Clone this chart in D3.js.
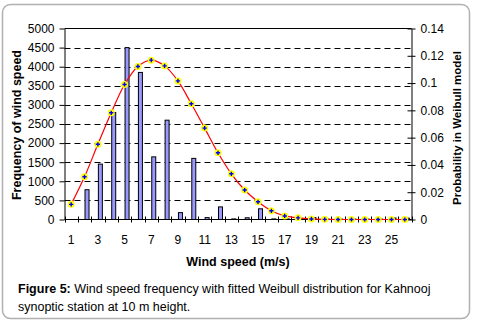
<!DOCTYPE html>
<html><head><meta charset="utf-8">
<script src="https://cdn.jsdelivr.net/npm/d3@7"></script>
<style>
body{margin:0;background:#fff;}
svg{display:block;font-family:"Liberation Sans",Arial,sans-serif;}
</style></head>
<body><svg id="c" width="480" height="322"></svg>
<script>
const categories = d3.range(1, 27);
const frequency = [0, 780, 1450, 2800, 4500, 3850, 1640, 2600, 180, 1600, 50, 330, 15, 45, 280, 15, 15, 10, 50, 10, 10, 10, 10, 10, 40, 35];
const weibull = [0.0111, 0.0313, 0.0551, 0.0782, 0.099, 0.1122, 0.1168, 0.1126, 0.1016, 0.0848, 0.067, 0.0489, 0.0335, 0.0216, 0.013, 0.0064, 0.0026, 0.0012, 0.0004, 0.0001, 0, 0, 0, 0, 0, 0];
const leftTicks = d3.range(0, 5001, 500);
const rightTicks = [0, 0.02, 0.04, 0.06, 0.08, 0.1, 0.12, 0.14];
const xLabels = [1, 3, 5, 7, 9, 11, 13, 15, 17, 19, 21, 23, 25];

const svg = d3.select("#c");
const L = 64.5, R = 411.5, T = 28.5, B = 219.5;
const x = d3.scaleBand().domain(categories).range([L, R]).padding(0);
const yL = d3.scaleLinear().domain([0, 5000]).range([B, T]);
const yR = d3.scaleLinear().domain([0, 0.14]).range([B, T]);

// frame
svg.append("rect").attr("x", 2.5).attr("y", 4.5).attr("width", 467).attr("height", 314)
  .attr("rx", 8).attr("fill", "#fff").attr("stroke", "#b0b0b0").attr("stroke-width", 1.5);

// gridlines
svg.append("g").selectAll("line").data(leftTicks.filter(d => d > 0 && d < 5000)).join("line")
  .attr("x1", L).attr("x2", R).attr("y1", d => Math.round(yL(d)) + 0.5).attr("y2", d => Math.round(yL(d)) + 0.5)
  .attr("stroke", "#000").attr("stroke-dasharray", "6,4");
// top border
svg.append("line").attr("x1", L).attr("x2", R).attr("y1", T).attr("y2", T).attr("stroke", "#000");

// bars
const bw = x.bandwidth();
svg.append("g").selectAll("rect").data(categories.map((c, i) => ({c, v: frequency[i]}))).join("rect")
  .attr("x", d => x(d.c) + bw / 2 + 0.5).attr("width", 4)
  .attr("y", d => yL(d.v)).attr("height", d => B - yL(d.v))
  .attr("fill", "#9999ff").attr("stroke", "#000").attr("stroke-width", 1);

// left axis
const gl = svg.append("g").attr("transform", `translate(${L},0)`)
  .call(d3.axisLeft(yL).tickValues(leftTicks).tickFormat(d3.format("d")).tickSize(5).tickSizeOuter(0).tickPadding(5));
gl.selectAll("text").attr("font-size", 12).attr("fill", "#000").attr("font-family", "Liberation Sans, Arial, sans-serif");
gl.selectAll("line,path").attr("stroke", "#000");

// right axis
const gr = svg.append("g").attr("transform", `translate(${R},0)`)
  .call(d3.axisRight(yR).tickValues(rightTicks).tickFormat(d => d3.format("~g")(d)).tickSize(4).tickSizeOuter(0).tickPadding(5));
gr.selectAll(".tick line").attr("x1", -4);
gr.selectAll("text").attr("font-size", 12).attr("fill", "#000").attr("font-family", "Liberation Sans, Arial, sans-serif");
gr.selectAll("line,path").attr("stroke", "#000");

// x axis
svg.append("line").attr("x1", L).attr("x2", R).attr("y1", B).attr("y2", B).attr("stroke", "#000");
const bounds = categories.map(c => x(c)).concat([R]);
svg.append("g").selectAll("line").data(bounds).join("line")
  .attr("x1", d => Math.round(d) + 0.5).attr("x2", d => Math.round(d) + 0.5).attr("y1", B - 3).attr("y2", B + 3)
  .attr("stroke", "#000");
svg.append("g").selectAll("text").data(xLabels).join("text")
  .attr("x", d => x(d) + bw / 2).attr("y", 244).attr("text-anchor", "middle")
  .attr("font-size", 12).text(d => d);

// weibull line
const pts = categories.map((c, i) => [x(c) + bw / 2, yR(weibull[i])]);
svg.append("path").attr("d", d3.line().curve(d3.curveCatmullRom.alpha(0.5))(pts))
  .attr("fill", "none").attr("stroke", "#ff0000").attr("stroke-width", 1.2);
svg.append("g").selectAll("circle").data(pts).join("circle")
  .attr("cx", d => d[0]).attr("cy", d => d[1]).attr("r", 3.5).attr("fill", "#ffff00");
svg.append("g").selectAll("path").data(pts).join("path")
  .attr("transform", d => `translate(${d[0]},${d[1]})`)
  .attr("d", d3.symbol(d3.symbolCross, 10)).attr("fill", "#0000ff");

// axis titles
svg.append("text").attr("x", 238).attr("y", 266).attr("text-anchor", "middle")
  .attr("font-size", 12.5).attr("font-weight", "bold").text("Wind speed (m/s)");
svg.append("text").attr("transform", "translate(21,125) rotate(-90)").attr("text-anchor", "middle")
  .attr("font-size", 12.5).attr("font-weight", "bold").text("Frequency of wind speed");
svg.append("text").attr("transform", "translate(461,128) rotate(-90)").attr("text-anchor", "middle")
  .attr("font-size", 11.5).attr("font-weight", "bold").text("Probability in Weibull model");

// caption
const cap = svg.append("text").attr("x", 18).attr("y", 293).attr("font-size", 12.5);
cap.append("tspan").attr("font-weight", "bold").text("Figure 5:");
cap.append("tspan").text(" Wind speed frequency with fitted Weibull distribution for Kahnooj");
svg.append("text").attr("x", 18).attr("y", 311).attr("font-size", 12.5).text("synoptic station at 10 m height.");
</script></body></html>
